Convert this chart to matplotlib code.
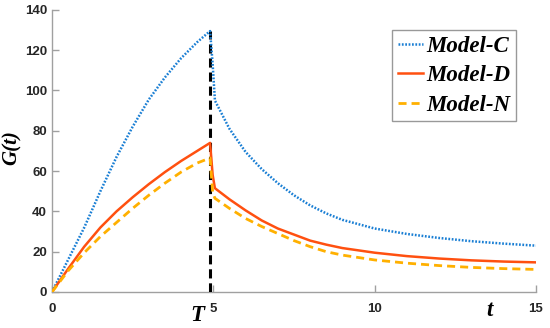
import numpy as np
import matplotlib
matplotlib.use("Agg")
import matplotlib.pyplot as plt

# values
t_rise = [0, 0.5, 1, 1.5, 2, 2.5, 3, 3.5, 4, 4.5, 4.9]
t_fall = [4.98, 5.05, 5.5, 6, 6.5, 7, 7.5, 8, 8.5, 9, 10, 11, 12, 13, 14, 15]

model_c = [0, 16, 32, 50, 67, 82, 95.5, 106.5, 116, 124, 129.5,
           113, 95, 81, 69.5, 61, 54, 48, 43, 39, 35.8, 31.5, 28.8, 26.8, 25.2, 24, 23]
model_d = [0, 11.5, 22.5, 32, 40, 47, 53.5, 59.5, 65, 70, 74,
           58, 51.5, 46, 40.5, 35.5, 31.5, 28.5, 25.5, 23.5, 21.8, 19.5, 17.8, 16.6, 15.7, 15.1, 14.7]
model_n = [0, 10.5, 19.5, 27.5, 34.5, 41.5, 48, 54, 59.5, 64, 66.5,
           49.5, 46.5, 41.5, 36.5, 32.5, 29, 25.5, 22.5, 20, 18.3, 15.9, 14.3, 13.1, 12.2, 11.6, 11.2]

T_line = 4.9
labels = ['Model-C', 'Model-D', 'Model-N']

t = np.array(t_rise + t_fall)

fig = plt.figure(figsize=(5.5, 3.28), dpi=100)
ax = fig.add_axes([0.0945, 0.1098, 0.88, 0.86])

ax.plot([T_line, T_line], [0, model_c[len(t_rise) - 1]], color='black', lw=2.2,
        linestyle=(0, (3, 1.6)), zorder=3)
ax.plot(t, model_c, color='#1a7fd4', lw=1.8, linestyle=(0, (0.7, 0.65)), label=labels[0], zorder=4)
ax.plot(t, model_d, color='#ff5010', lw=1.8, label=labels[1], zorder=4)
ax.plot(t, model_n, color='#ffb000', lw=2.0, linestyle=(0, (2.9, 1.8)), label=labels[2], zorder=4)

ax.set_xlim(0, 15)
ax.set_ylim(0, 140)
ax.set_xticks([0, 5, 10, 15])
ax.set_yticks(np.arange(0, 141, 20))

for side in ['top', 'right']:
    ax.spines[side].set_visible(False)
for side in ['left', 'bottom']:
    ax.spines[side].set_color('#a0a0a0')
    ax.spines[side].set_linewidth(1.0)

ax.tick_params(axis='both', direction='in', length=5, width=1, color='#a0a0a0',
               labelcolor='#262626', labelsize=9.5)
ax.tick_params(axis='x', pad=8)
ax.tick_params(axis='y', pad=3.5)
for lab in ax.get_xticklabels() + ax.get_yticklabels():
    lab.set_fontfamily('Liberation Sans')
    lab.set_fontweight('bold')

serif = {'family': 'Liberation Serif', 'weight': 'bold', 'style': 'italic'}
ax.text(4.5, -11.8, 'T', fontdict=serif, fontsize=16.5, ha='center', va='center', clip_on=False)
ax.text(13.57, -9.2, 't', fontdict=serif, fontsize=16.5, ha='center', va='center', clip_on=False)
fig.text(12 / 550, 1 - 148 / 328, 'G(t)', fontdict=serif, fontsize=15, rotation=90,
         ha='center', va='center')

leg = ax.legend(loc='upper right', bbox_to_anchor=(0.9587, 0.929), borderaxespad=0,
                prop={'family': 'Liberation Serif', 'weight': 'bold', 'style': 'italic', 'size': 16.5},
                handlelength=1.1, handletextpad=0.15, borderpad=0.25, labelspacing=0.37,
                fancybox=False, framealpha=1)
leg.get_frame().set_edgecolor('#999999')
leg.get_frame().set_linewidth(1.0)

fig.savefig('out.png', dpi=100)
